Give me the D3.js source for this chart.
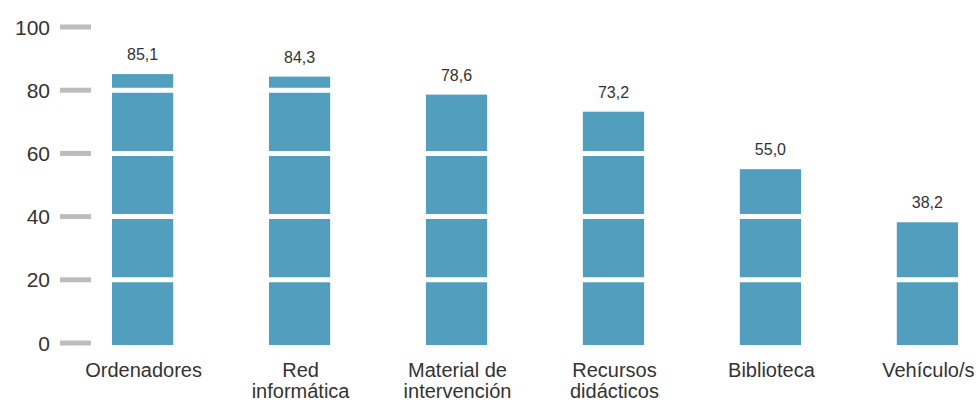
<!DOCTYPE html>
<html>
<head>
<meta charset="utf-8">
<script src="https://cdn.jsdelivr.net/npm/d3@7"></script>
<style>
  html, body { margin: 0; padding: 0; background: #fff; }
  svg { display: block; }
  text { font-family: "Liberation Sans", Arial, sans-serif; fill: #333; }
</style>
</head>
<body>
<svg id="chart" width="979" height="413"></svg>
<script>
const categories = [["Ordenadores"], ["Red", "informática"], ["Material de", "intervención"], ["Recursos", "didácticos"], ["Biblioteca"], ["Vehículo/s"]];
const values = [85.1, 84.3, 78.6, 73.2, 55.0, 38.2];
const valueLabels = ["85,1", "84,3", "78,6", "73,2", "55,0", "38,2"];
const yTicks = [0, 20, 40, 60, 80, 100];

const svg = d3.select("#chart");
const W = 979, H = 413;

const x = d3.scaleBand().domain(d3.range(values.length)).range([112, 958]).paddingInner(0.61).paddingOuter(0);
const y = d3.scaleLinear().domain([0, 100]).range([343, 27]);

// bars
svg.append("g").selectAll("rect").data(values).join("rect")
  .attr("x", (d, i) => x(i))
  .attr("y", d => y(d))
  .attr("width", x.bandwidth())
  .attr("height", d => y(0) - y(d) + 2)
  .attr("fill", "#529ebf");

// white separators at gridlines
svg.append("g").selectAll("line").data(yTicks.filter(t => t > 0 && t < 100)).join("line")
  .attr("x1", 100).attr("x2", W)
  .attr("y1", d => y(d)).attr("y2", d => y(d))
  .attr("stroke", "#fff").attr("stroke-width", 5);

// y tick marks
svg.append("g").selectAll("line").data(yTicks).join("line")
  .attr("x1", 60).attr("x2", 91)
  .attr("y1", d => y(d)).attr("y2", d => y(d))
  .attr("stroke", "#bcbcc0").attr("stroke-width", 5);

// y tick labels
svg.append("g").selectAll("text").data(yTicks).join("text")
  .attr("x", 50)
  .attr("y", d => y(d))
  .attr("dy", "0.36em")
  .attr("text-anchor", "end")
  .style("font-size", "21px")
  .text(d => d);

// value labels
svg.append("g").selectAll("text").data(values).join("text")
  .attr("x", (d, i) => x(i) + x.bandwidth() / 2)
  .attr("y", d => y(d) - 14)
  .attr("text-anchor", "middle")
  .style("font-size", "16px")
  .text((d, i) => valueLabels[i]);

// category labels
const cg = svg.append("g").selectAll("text").data(categories).join("text")
  .attr("x", (d, i) => x(i) + x.bandwidth() / 2 + 1)
  .attr("y", 377)
  .attr("text-anchor", "middle")
  .style("font-size", "20px");
cg.selectAll("tspan").data(d => d).join("tspan")
  .attr("x", function() { return d3.select(this.parentNode).attr("x"); })
  .attr("dy", (d, j) => j === 0 ? 0 : 21)
  .text(d => d);
</script>
</body>
</html>
